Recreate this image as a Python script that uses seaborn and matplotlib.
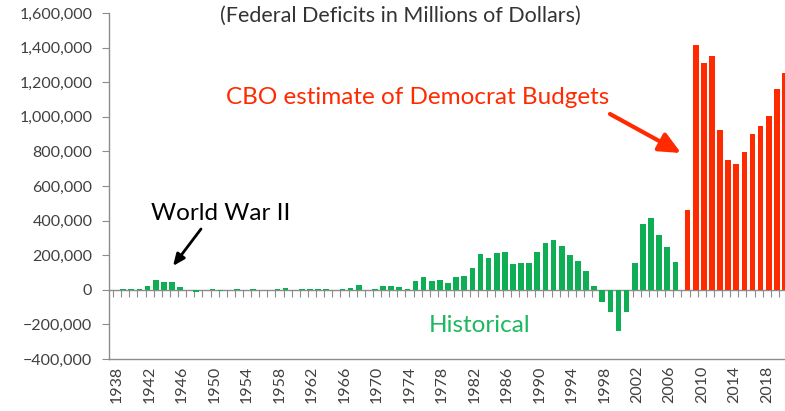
import numpy as np
import pandas as pd
import seaborn as sns
import matplotlib.pyplot as plt
from matplotlib.ticker import StrMethodFormatter, FixedLocator

# federal deficits, millions of dollars (surplus shown negative)
hist_years = list(range(1938, 2008))
hist_values = [
    89, 2846, 2920, 4941, 20503, 54554, 47557, 47553, 15936, -4018,
    -11796, 580, 3119, -6102, 1519, 6493, 1154, 2993, -3947, -3412,
    2769, 12849, -301, 3335, 7146, 4756, 5915, 1411, 3698, 8643,
    25161, -3242, 2842, 23033, 23373, 14908, 6135, 53242, 73732, 53659,
    59185, 40726, 73830, 78968, 127977, 207802, 185367, 212308, 221227, 149730,
    155178, 152639, 221036, 269238, 290321, 255051, 203186, 163952, 107431, 21884,
    -69270, -125610, -236241, -128236, 157758, 377585, 412727, 318346, 248181, 160701,
]
cbo_years = list(range(2008, 2021))
cbo_values = [462000, 1413000, 1312000, 1350000, 921000, 751000, 728000,
              798000, 900000, 944000, 1002000, 1158000, 1256000]

all_years = list(range(1938, 2021))
label_years = list(range(1938, 2019, 4))

GREEN = "#0fae55"
RED = "#ff2a00"
GRAY = "#8c8c8c"

df = pd.concat([
    pd.DataFrame({"year": hist_years, "deficit": hist_values, "series": "Historical"}),
    pd.DataFrame({"year": cbo_years, "deficit": cbo_values, "series": "CBO"}),
])
df["year"] = df["year"].astype(str)

sns.set_style("white")
plt.rcParams["font.family"] = ["Lato", "DejaVu Sans"]

fig = plt.figure(figsize=(7.85, 4.11), dpi=100)
ax = fig.add_axes([109 / 785, 1 - 359 / 411, 1 - 109 / 785, (359 - 13) / 411])

sns.barplot(data=df, x="year", y="deficit", hue="series",
            order=[str(y) for y in all_years], hue_order=["Historical", "CBO"],
            palette={"Historical": GREEN, "CBO": RED},
            width=1.0, gap=-0.4, dodge=True, legend=False,
            edgecolor="none", saturation=1, ax=ax)

ax.set_ylim(-400000, 1600000)
ax.set_xlim(-1.0, len(all_years) - 0.75)
ax.set_xlabel("")
ax.set_ylabel("")

ax.yaxis.set_major_formatter(StrMethodFormatter("{x:,.0f}"))
ax.set_yticks(np.arange(-400000, 1600001, 200000))
ax.tick_params(axis="y", left=True, length=5, width=0.8, color=GRAY,
               labelsize=11.5, labelcolor="#404040", pad=7)

ax.set_xticks([all_years.index(y) for y in label_years])
ax.set_xticklabels([str(y) for y in label_years], rotation=90)
ax.tick_params(axis="x", bottom=False, length=0, labelsize=11.5,
               labelcolor="#404040", pad=5)

for side in ["top", "right"]:
    ax.spines[side].set_visible(False)
for side in ["left", "bottom"]:
    ax.spines[side].set_color(GRAY)
    ax.spines[side].set_linewidth(1.0)

# zero line with category tick marks
ax.axhline(0, color=GRAY, lw=1.0, zorder=0)
zero = ax.secondary_xaxis(0.2)
zero.xaxis.set_major_locator(FixedLocator(np.arange(len(all_years)) - 0.5))
zero.tick_params(axis="x", direction="out", length=5, width=0.8, color=GRAY,
                 labelbottom=False, labeltop=False)
zero.spines["bottom"].set_visible(False)
zero.spines["top"].set_visible(False)

# texts
fig.text(400 / 785, 1 - 16 / 411, "(Federal Deficits in Millions of Dollars)",
         ha="center", va="center", fontsize=15.5, color="#333333")
fig.text(418 / 785, 1 - 97 / 411, "CBO estimate of Democrat Budgets",
         ha="center", va="center", fontsize=17.5, color=RED)
fig.text(221 / 785, 1 - 213 / 411, "World War II",
         ha="center", va="center", fontsize=17.5, color="black")
fig.text(480 / 785, 1 - 325 / 411, "Historical",
         ha="center", va="center", fontsize=17.5, color="#1db85f")

ax.annotate("", xy=(681, 411 - 153), xycoords="figure pixels",
            xytext=(610, 411 - 114), textcoords="figure pixels",
            arrowprops=dict(arrowstyle="-|>,head_length=1.3,head_width=0.6",
                            color=RED, lw=3, shrinkA=0, shrinkB=0))
ax.annotate("", xy=(173, 411 - 266), xycoords="figure pixels",
            xytext=(201, 411 - 229), textcoords="figure pixels",
            arrowprops=dict(arrowstyle="-|>,head_length=0.7,head_width=0.3",
                            color="black", lw=2, shrinkA=0, shrinkB=0))

fig.savefig("out.png", dpi=100)
